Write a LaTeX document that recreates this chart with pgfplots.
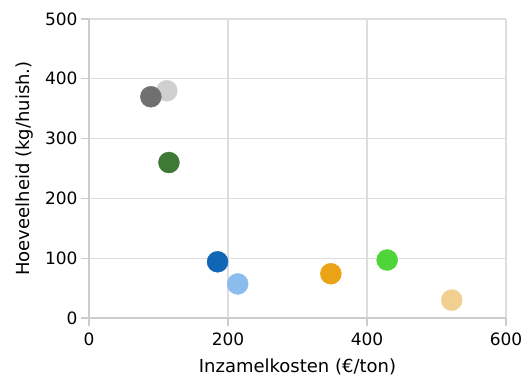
\documentclass[border=0pt]{standalone}
\usepackage{pgfplots}
\pgfplotsset{compat=1.18}
\usepackage{fontspec}
\setmainfont{DejaVu Sans}
\definecolor{c1}{HTML}{707070}
\definecolor{c2}{HTML}{D0D0D0}
\definecolor{c3}{HTML}{3F7A35}
\definecolor{c4}{HTML}{1166B5}
\definecolor{c5}{HTML}{8BBCEE}
\definecolor{c6}{HTML}{E9A315}
\definecolor{c7}{HTML}{4FD43A}
\definecolor{c8}{HTML}{F0CF8F}
\definecolor{gridc}{HTML}{DDDDDD}
\definecolor{axc}{HTML}{CCCCCC}
\begin{document}
\begin{tikzpicture}
\begin{axis}[
  scale only axis,
  width=417bp, height=299bp,
  xmin=0, xmax=600, ymin=0, ymax=500,
  xtick={0,200,400,600}, ytick={0,100,200,300,400,500},
  grid=major,
  major grid style={gridc, line width=1.3pt},
  axis line style={draw=none},
  axis x line*=bottom, axis y line*=left,
  tick style={axc, line width=1.3pt},
  major tick length=8bp,
  tick align=outside,
  xtick pos=bottom, ytick pos=left,
  /pgf/number format/assume math mode=true,
  /pgf/number format/1000 sep={},
  tick label style={font=\fontsize{17bp}{20bp}\selectfont, text=black},
  xticklabel style={yshift=-3bp},
  label style={font=\fontsize{18bp}{20bp}\selectfont},
  xlabel={Inzamelkosten (€/ton)},
  ylabel={Hoeveelheid (kg/huish.)},
  xlabel style={at={(axis description cs:0.5,-0.182)}, anchor=base},
  ylabel style={at={(axis description cs:-0.1415,0.5)}, anchor=base},
  clip=false,
]
\addplot[axc, line width=1.6pt, forget plot] coordinates {(0,0) (600,0)};
\addplot[axc, line width=1.6pt, forget plot] coordinates {(0,0) (0,500)};
\addplot[only marks, mark=*, mark size=10.5bp, c2, mark options={draw=none, fill=c2}] coordinates {(112,380)};
\addplot[only marks, mark=*, mark size=10.5bp, c1, mark options={draw=none, fill=c1}] coordinates {(89,370)};
\addplot[only marks, mark=*, mark size=10.5bp, c3, mark options={draw=none, fill=c3}] coordinates {(115,260)};
\addplot[only marks, mark=*, mark size=10.5bp, c4, mark options={draw=none, fill=c4}] coordinates {(185,94)};
\addplot[only marks, mark=*, mark size=10.5bp, c5, mark options={draw=none, fill=c5}] coordinates {(214,57)};
\addplot[only marks, mark=*, mark size=10.5bp, c6, mark options={draw=none, fill=c6}] coordinates {(348,74)};
\addplot[only marks, mark=*, mark size=10.5bp, c7, mark options={draw=none, fill=c7}] coordinates {(429,97)};
\addplot[only marks, mark=*, mark size=10.5bp, c8, mark options={draw=none, fill=c8}] coordinates {(522,30)};
\end{axis}
\pgfresetboundingbox
\path (current axis.south west) ++(-89bp,-60bp) rectangle ++(526bp,378bp);
\end{tikzpicture}
\end{document}
